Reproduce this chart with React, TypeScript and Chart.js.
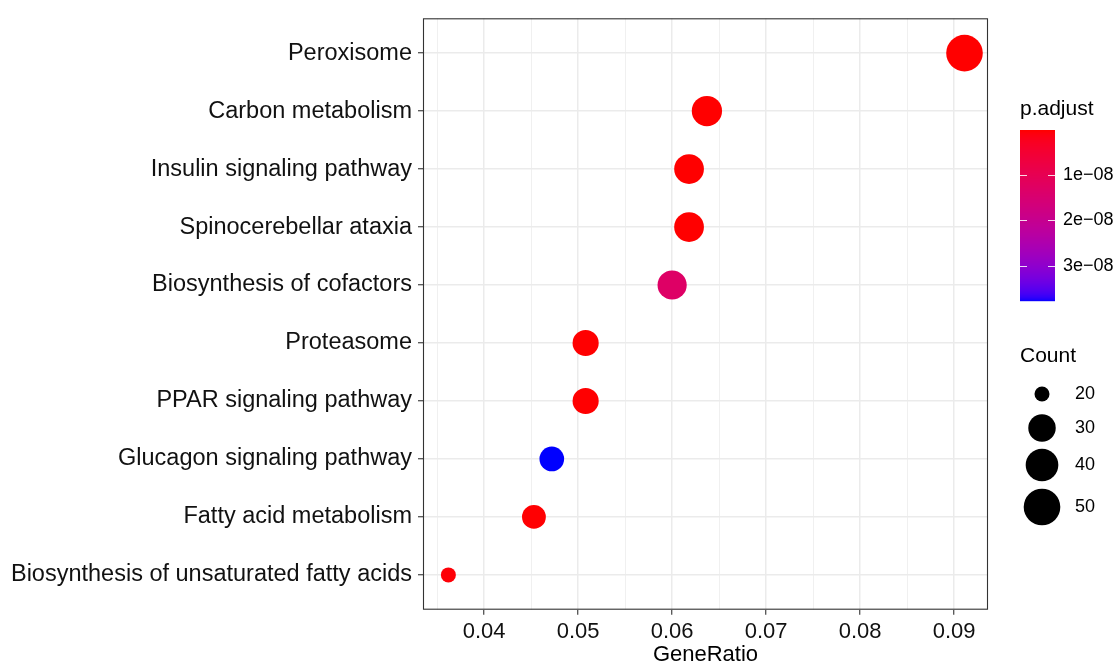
import React, { useEffect, useRef } from 'react';
import { Chart, registerables } from 'chart.js';

Chart.register(...registerables);

// ---- data (top to bottom as shown) ----
const categories = [
  'Peroxisome',
  'Carbon metabolism',
  'Insulin signaling pathway',
  'Spinocerebellar ataxia',
  'Biosynthesis of cofactors',
  'Proteasome',
  'PPAR signaling pathway',
  'Glucagon signaling pathway',
  'Fatty acid metabolism',
  'Biosynthesis of unsaturated fatty acids',
];
const geneRatio = [0.0911, 0.0637, 0.0618, 0.0618, 0.06, 0.0508, 0.0508, 0.0472, 0.0453, 0.0362];
const counts = [50, 35, 34, 34, 33, 28, 28, 26, 25, 20];
const pAdjust = [1.2e-22, 3.5e-12, 2.1e-11, 2.4e-11, 1.3e-8, 4.6e-11, 5.2e-11, 3.78e-8, 1.1e-10, 4.2e-10];

const xMajorTicks = [0.04, 0.05, 0.06, 0.07, 0.08, 0.09];
const xMinorTicks = [0.035, 0.045, 0.055, 0.065, 0.075, 0.085];
const colorbarTicks = [1e-8, 2e-8, 3e-8];
const colorbarLabels = ['1e\u221208', '2e\u221208', '3e\u221208'];
const sizeLegendCounts = [20, 30, 40, 50];

const FONT = "'Liberation Sans', Arial, Helvetica, sans-serif";

// ---- colour: Lab interpolation red -> blue (like ggplot2) ----
function srgbToLin(c: number) {
  c /= 255;
  return c <= 0.04045 ? c / 12.92 : Math.pow((c + 0.055) / 1.055, 2.4);
}
function linToSrgb(c: number) {
  const v = c <= 0.0031308 ? 12.92 * c : 1.055 * Math.pow(c, 1 / 2.4) - 0.055;
  return Math.max(0, Math.min(255, Math.round(v * 255)));
}
const Xn = 0.95047, Yn = 1.0, Zn = 1.08883;
function f(t: number) {
  return t > 0.008856 ? Math.cbrt(t) : 7.787 * t + 16 / 116;
}
function finv(t: number) {
  return t * t * t > 0.008856 ? t * t * t : (t - 16 / 116) / 7.787;
}
function rgbToLab(r: number, g: number, b: number) {
  const R = srgbToLin(r), G = srgbToLin(g), B = srgbToLin(b);
  const X = 0.4124 * R + 0.3576 * G + 0.1805 * B;
  const Y = 0.2126 * R + 0.7152 * G + 0.0722 * B;
  const Z = 0.0193 * R + 0.1192 * G + 0.9505 * B;
  const fx = f(X / Xn), fy = f(Y / Yn), fz = f(Z / Zn);
  return [116 * fy - 16, 500 * (fx - fy), 200 * (fy - fz)];
}
function labToRgb(L: number, a: number, b: number) {
  const fy = (L + 16) / 116;
  const fx = fy + a / 500;
  const fz = fy - b / 200;
  const X = Xn * finv(fx), Y = Yn * finv(fy), Z = Zn * finv(fz);
  const R = 3.2406 * X - 1.5372 * Y - 0.4986 * Z;
  const G = -0.9689 * X + 1.8758 * Y + 0.0415 * Z;
  const B = 0.0557 * X - 0.204 * Y + 1.057 * Z;
  return `rgb(${linToSrgb(R)},${linToSrgb(G)},${linToSrgb(B)})`;
}
const labLow = rgbToLab(255, 0, 0);
const labHigh = rgbToLab(0, 0, 255);
const pMin = Math.min(...pAdjust);
const pMax = Math.max(...pAdjust);
function colorFor(p: number) {
  const t = Math.max(0, Math.min(1, (p - pMin) / (pMax - pMin)));
  return labToRgb(
    labLow[0] + (labHigh[0] - labLow[0]) * t,
    labLow[1] + (labHigh[1] - labLow[1]) * t,
    labLow[2] + (labHigh[2] - labLow[2]) * t
  );
}

// ---- size: area scale ----
const cMin = Math.min(...counts);
const cMax = Math.max(...counts);
const R_MIN = 7.5;
const R_MAX = 18.3;
function radiusFor(c: number) {
  return R_MIN + (R_MAX - R_MIN) * Math.sqrt((c - cMin) / (cMax - cMin));
}

const isMajor = (v: number) => Math.round(v * 1000) % 10 === 0;

const legendPlugin = {
  id: 'ggLegend',
  afterDraw(chart: any) {
    const ctx = chart.ctx as CanvasRenderingContext2D;
    const area = chart.chartArea;
    ctx.save();
    // panel border
    ctx.strokeStyle = '#333333';
    ctx.lineWidth = 1.1;
    ctx.strokeRect(area.left + 0.5, area.top + 0.5, area.right - area.left - 1, area.bottom - area.top - 1);

    // x axis title
    ctx.fillStyle = '#000';
    ctx.font = `22px ${FONT}`;
    ctx.textAlign = 'center';
    ctx.textBaseline = 'middle';
    ctx.fillText('GeneRatio', (area.left + area.right) / 2, 655);

    // colour legend
    const barX = 1020, barW = 35, barTop = 130, barH = 171;
    ctx.textAlign = 'left';
    ctx.font = `21px ${FONT}`;
    ctx.fillText('p.adjust', 1020, 109);
    for (let i = 0; i < barH; i++) {
      const p = pMin + ((pMax - pMin) * (i + 0.5)) / barH;
      ctx.fillStyle = colorFor(p);
      ctx.fillRect(barX, barTop + i, barW, 1.2);
    }
    ctx.font = `18px ${FONT}`;
    colorbarTicks.forEach((v, i) => {
      const y = Math.round(barTop + ((v - pMin) / (pMax - pMin)) * barH) + 0.5;
      ctx.strokeStyle = 'rgba(255,255,255,0.85)';
      ctx.lineWidth = 1;
      ctx.beginPath();
      ctx.moveTo(barX, y);
      ctx.lineTo(barX + 7, y);
      ctx.moveTo(barX + barW - 7, y);
      ctx.lineTo(barX + barW, y);
      ctx.stroke();
      ctx.fillStyle = '#000';
      ctx.fillText(colorbarLabels[i], 1063, y);
    });

    // size legend
    ctx.font = `21px ${FONT}`;
    ctx.fillText('Count', 1020, 356);
    const ys = [394, 428, 465, 507];
    ctx.font = `18px ${FONT}`;
    sizeLegendCounts.forEach((c, i) => {
      ctx.fillStyle = '#000';
      ctx.beginPath();
      ctx.arc(1042, ys[i], radiusFor(c), 0, Math.PI * 2);
      ctx.fill();
      ctx.fillText(String(c), 1075, ys[i]);
    });
    ctx.restore();
  },
};

export default function App() {
  const ref = useRef<HTMLCanvasElement>(null);
  useEffect(() => {
    document.body.style.margin = '0';
    const n = categories.length;
    const points = categories.map((_, i) => ({ x: geneRatio[i], y: n - i }));
    const chart = new Chart(ref.current!, {
      type: 'scatter',
      data: {
        datasets: [
          {
            data: points,
            pointRadius: counts.map(radiusFor),
            pointHoverRadius: counts.map(radiusFor),
            backgroundColor: pAdjust.map(colorFor),
            borderWidth: 0,
          },
        ],
      },
      options: {
        animation: false,
        responsive: false,
        devicePixelRatio: 1,
        layout: { padding: { top: 13, right: 126, left: 0, bottom: 0 } },
        plugins: { legend: { display: false }, tooltip: { enabled: false } },
        scales: {
          x: {
            type: 'linear',
            min: 0.0335,
            max: 0.0936,
            afterBuildTicks: (scale: any) => {
              scale.ticks = [...xMinorTicks, ...xMajorTicks]
                .sort((a, b) => a - b)
                .map((v) => ({ value: v }));
            },
            afterFit: (scale: any) => {
              scale.height = 54.3;
              scale.paddingLeft = 0;
              scale.paddingRight = 0;
            },
            border: { display: false },
            grid: {
              color: '#EBEBEB',
              lineWidth: (c: any) => (c.tick && isMajor(c.tick.value) ? 1.5 : 0.75),
              tickColor: (c: any) => (c.tick && isMajor(c.tick.value) ? '#333333' : 'rgba(0,0,0,0)'),
              tickLength: 5,
              tickWidth: 1.1,
            },
            ticks: {
              autoSkip: false,
              maxRotation: 0,
              padding: 4,
              color: '#111',
              font: { family: FONT, size: 22 },
              callback: (v: any) => (isMajor(Number(v)) ? Number(v).toFixed(2) : ''),
            },
          },
          y: {
            type: 'linear',
            min: 0.4,
            max: n + 0.6,
            afterBuildTicks: (scale: any) => {
              scale.ticks = categories.map((_, i) => ({ value: n - i }));
            },
            afterFit: (scale: any) => {
              scale.width = 423;
              scale.paddingTop = 0;
              scale.paddingBottom = 0;
            },
            border: { display: false },
            grid: {
              color: '#EBEBEB',
              lineWidth: 1.5,
              tickColor: '#333333',
              tickLength: 5,
              tickWidth: 1.1,
            },
            ticks: {
              autoSkip: false,
              padding: 6,
              color: '#111',
              font: { family: FONT, size: 23.5 },
              callback: (v: any) => categories[n - Number(v)] ?? '',
            },
          },
        },
      },
      plugins: [legendPlugin],
    });
    return () => chart.destroy();
  }, []);
  return <canvas ref={ref} width={1114} height={664} style={{ display: 'block' }} />;
}
